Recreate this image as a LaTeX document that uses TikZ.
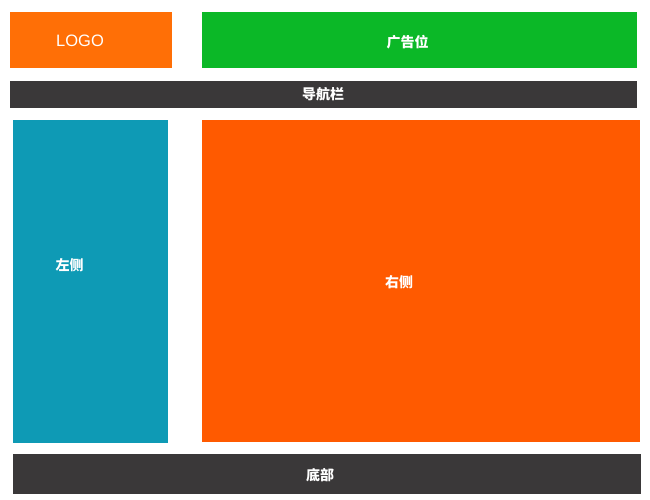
\documentclass[tikz,border=0pt]{standalone}
\usepackage{fontspec}
\setmainfont{Liberation Sans}
\newfontfamily\cjk{Noto Sans CJK SC}
\usetikzlibrary{positioning}

\definecolor{logoorange}{HTML}{FF6F06}
\definecolor{adgreen}{HTML}{0BB827}
\definecolor{navgray}{HTML}{3A3839}
\definecolor{sideteal}{HTML}{0E9AB5}
\definecolor{mainorange}{HTML}{FF5A00}

\begin{document}
\begin{tikzpicture}[x=1pt,y=-1pt,
						box/.style={rectangle,anchor=north west,inner sep=0pt,outer sep=0pt},
						cn/.style={text=white,inner sep=0pt,font=\cjk\bfseries\fontsize{14}{14}\selectfont}]

		\useasboundingbox (0,0) rectangle (650,500);

		\node[box,fill=logoorange,minimum width=162pt,minimum height=56pt] 	(logo)		at (10,12)	{};
		\node[box,fill=adgreen,minimum width=435pt,minimum height=56pt] 	(ad)		at (202,12)	{};
		\node[box,fill=navgray,minimum width=627pt,minimum height=27pt] 	(nav)		at (10,81)	{};
		\node[box,fill=sideteal,minimum width=155pt,minimum height=323pt] 	(left)		at (13,120)	{};
		\node[box,fill=mainorange,minimum width=438pt,minimum height=322pt] (right)		at (202,120) {};
		\node[box,fill=navgray,minimum width=628pt,minimum height=40pt] 	(footer)	at (13,454)	{};

		\node[text=white,inner sep=0pt,font=\fontsize{16.5}{16.5}\selectfont] (logotext) at (80,41) {LOGO};
		\node[cn] 	(adtext)		at (407.5,42.5)	{广告位};
		\node[cn] 	(navtext)		at (323,94)		{导航栏};
		\node[cn] 	(lefttext)		at (69.5,265)	{左侧};
		\node[cn] 	(righttext)		at (399,282)	{右侧};
		\node[cn] 	(footertext)	at (320,475)	{底部};
	\end{tikzpicture}
\end{document}
